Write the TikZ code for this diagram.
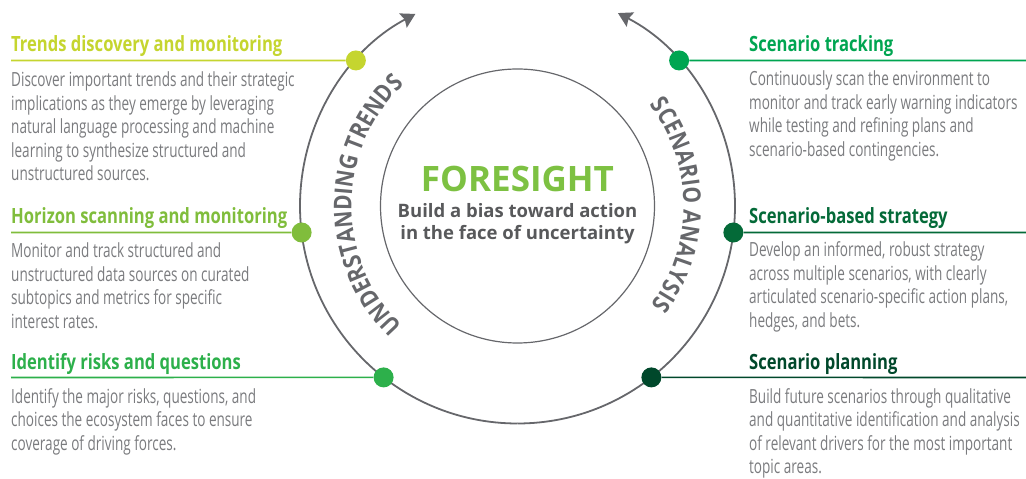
\documentclass[tikz,border=0pt]{standalone}
\usepackage{fontspec}
\setmainfont{Open Sans}
\newfontfamily\headfont[FakeStretch=0.79]{Open Sans}
\newfontfamily\bodyfont[FakeStretch=0.695]{Open Sans}
\newfontfamily\arcfont[FakeStretch=0.85]{Open Sans}
\usetikzlibrary{arrows.meta,decorations.text,calc}
\definecolor{cA}{HTML}{C5D52F}
\definecolor{cB}{HTML}{80BD3C}
\definecolor{cC}{HTML}{2DB04B}
\definecolor{cD}{HTML}{00A551}
\definecolor{cE}{HTML}{046A38}
\definecolor{cF}{HTML}{00482B}
\definecolor{ringgray}{HTML}{66676B}
\definecolor{bodygray}{HTML}{7A7B7E}
\definecolor{subgray}{HTML}{58595B}
\definecolor{fgreen}{HTML}{7DC142}
\tikzset{
  heading/.style={anchor=base west, inner sep=0pt, font=\headfont\bfseries\fontsize{21}{25}\selectfont},
  bodytext/.style={anchor=base west, inner sep=0pt, text=bodygray},
  dot/.style={circle, inner sep=0pt, minimum size=20pt},
  leader/.style={line width=1.6pt},
  ring/.style={draw=ringgray, line width=1.8pt},
}
\newcommand{\bodyblock}[1]{\parbox[t]{300pt}{\bodyfont\fontsize{19.5}{23.4}\selectfont\raggedright #1}}
\begin{document}
\begin{tikzpicture}[x=1pt,y=1pt]
\useasboundingbox (0,0) rectangle (1026,479);
\coordinate (C) at (517.5,273);
% rings
\draw[ring, -{Stealth[length=14pt,width=16pt,inset=2pt]}] ($(C)+(270:217.5)$) arc[start angle=270, end angle=118, radius=217.5];
\draw[ring, -{Stealth[length=14pt,width=16pt,inset=2pt]}] ($(C)+(-90:217.5)$) arc[start angle=-90, end angle=62.5, radius=217.5];
\node[circle, draw=ringgray, line width=1.2pt, minimum size=274pt, inner sep=0pt] (inner) at (C) {};
% arc texts
\path[decorate, decoration={text along path, text align={fit to path}, text={|\arcfont\bfseries\fontsize{24.5}{26}\selectfont\color{ringgray}|UNDERSTANDING TRENDS}}]
  ($(C)+(226:166)$) arc[start angle=226, end angle=134, radius=166];
\path[decorate, decoration={text along path, text align={fit to path}, text={|\arcfont\bfseries\fontsize{24.5}{26}\selectfont\color{ringgray}|SCENARIO ANALYSIS}}]
  ($(C)+(37.5:166)$) arc[start angle=37.5, end angle=-36.5, radius=166];
% center text
\node[anchor=base, inner sep=0pt, text=fgreen, font=\bfseries\fontsize{35}{38}\selectfont] (fs) at (517.5,287) {FORESIGHT};
\node[anchor=base, inner sep=0pt, text=subgray, font=\bfseries\fontsize{18.5}{22}\selectfont] (s1) at (517.5,261) {Build a bias toward action};
\node[anchor=base, inner sep=0pt, text=subgray, font=\bfseries\fontsize{18.5}{22}\selectfont] (s2) at (517.5,239) {in the face of uncertainty};
% dots
\node[dot, fill=cA] (d1) at ($(C)+(138:217.5)$) {};
\node[dot, fill=cB] (d2) at ($(C)+(187:217.5)$) {};
\node[dot, fill=cC] (d3) at ($(C)+(232:217.5)$) {};
\node[dot, fill=cD] (d4) at ($(C)+(42:217.5)$) {};
\node[dot, fill=cE] (d5) at ($(C)+(-7:217.5)$) {};
\node[dot, fill=cF] (d6) at ($(C)+(-52:217.5)$) {};
% leader lines
\coordinate (l1) at (11,418.5);
\coordinate (l2) at (11,246.5);
\coordinate (l3) at (11,101.5);
\coordinate (r1) at (1026,418.5);
\coordinate (r2) at (1026,246.5);
\coordinate (r3) at (1026,101.5);
\draw[leader, cA] (l1) -- (d1);
\draw[leader, cB] (l2) -- (d2);
\draw[leader, cC] (l3) -- (d3);
\draw[leader, cD] (d4) -- (r1);
\draw[leader, cE] (d5) -- (r2);
\draw[leader, cF] (d6) -- (r3);
% left headings and texts
\node[heading, text=cA] (h1) at (11,427) {Trends discovery and monitoring};
\node[bodytext] (b1) at (11,392) {\bodyblock{Discover important trends and their strategic\\implications as they emerge by leveraging\\natural language processing and machine\\learning to synthesize structured and\\unstructured sources.}};
\node[heading, text=cB] (h2) at (11,255.7) {Horizon scanning and monitoring};
\node[bodytext] (b2) at (11,221) {\bodyblock{Monitor and track structured and\\unstructured data sources on curated\\subtopics and metrics for specific\\interest rates.}};
\node[heading, text=cC] (h3) at (11,109.7) {Identify risks and questions};
\node[bodytext] (b3) at (11,75.7) {\bodyblock{Identify the major risks, questions, and\\choices the ecosystem faces to ensure\\coverage of driving forces.}};
% right headings and texts
\node[heading, text=cD] (h4) at (749,427) {Scenario tracking};
\node[bodytext] (b4) at (749,393) {\bodyblock{Continuously scan the environment to\\monitor and track early warning indicators\\while testing and refining plans and\\scenario-based contingencies.}};
\node[heading, text=cE] (h5) at (749,255.7) {Scenario-based strategy};
\node[bodytext] (b5) at (749,222) {\bodyblock{Develop an informed, robust strategy\\across multiple scenarios, with clearly\\articulated scenario-specific action plans,\\hedges, and bets.}};
\node[heading, text=cF] (h6) at (749,109.7) {Scenario planning};
\node[bodytext] (b6) at (749,75.7) {\bodyblock{Build future scenarios through qualitative\\and quantitative identification and analysis\\of relevant drivers for the most important\\topic areas.}};
\end{tikzpicture}
\end{document}
